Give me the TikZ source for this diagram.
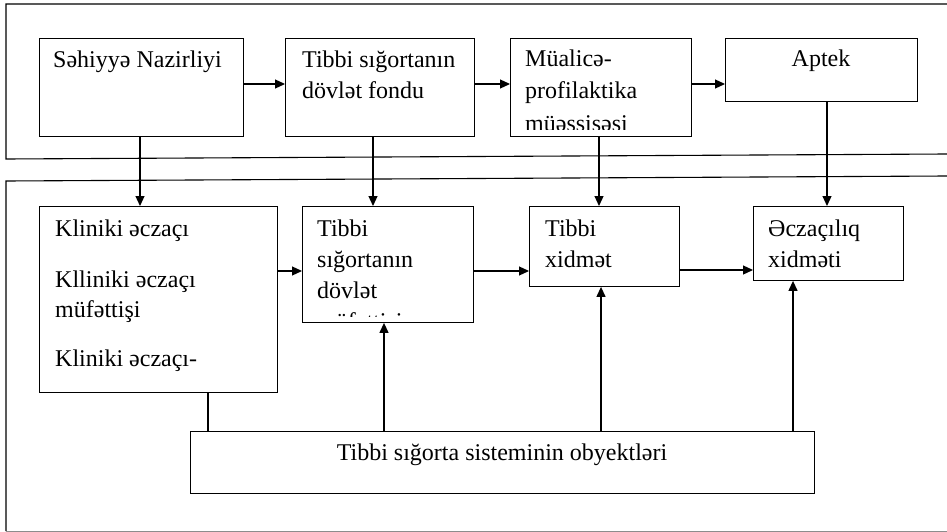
\documentclass[tikz,border=0pt]{standalone}
\usepackage{fontspec}
\setmainfont{Liberation Serif}
\usetikzlibrary{arrows.meta}
\begin{document}
\begin{tikzpicture}[x=1pt,y=-1pt,
  box/.style={draw, line width=0.9pt, rectangle, inner sep=0pt, anchor=north west},
  lbl/.style={anchor=base west, inner sep=0pt, font=\fontsize{24}{30.5}\selectfont},
  clbl/.style={anchor=base, inner sep=0pt, font=\fontsize{24}{30.5}\selectfont},
  arr/.style={line width=1.2pt, -{Triangle[length=10pt,width=9pt]}},
  plain/.style={line width=1.2pt},
  frame/.style={line width=1.1pt}]
\useasboundingbox (0,0) rectangle (947,532);
% frames
\draw[frame] (947,4) -- (6,4) -- (6,159) -- (947,154);
\draw[frame] (947,176) -- (6,181) -- (6,531);
\draw[line width=1pt, black!45] (6,531) -- (947,531);
% top row boxes
\node[box, minimum width=204pt, minimum height=98pt] (b1) at (39,38) {};
\node[box, minimum width=189pt, minimum height=98pt] (b2) at (285,38) {};
\node[box, minimum width=181pt, minimum height=98pt] (b3) at (510,38) {};
\node[box, minimum width=192pt, minimum height=63pt] (b4) at (725,38) {};
% lower row boxes
\node[box, minimum width=238pt, minimum height=186pt] (kl) at (39,206) {};
\node[box, minimum width=171pt, minimum height=116pt] (ts) at (302,206) {};
\node[box, minimum width=150pt, minimum height=80pt] (tx) at (529,206) {};
\node[box, minimum width=150pt, minimum height=74pt] (ec) at (753,206) {};
\node[box, minimum width=624pt, minimum height=62pt] (obj) at (190,431) {};
% texts
\node[lbl] (t1) at (53,68) {Səhiyyə Nazirliyi};
\node[lbl] (t2a) at (302,68) {Tibbi sığortanın};
\node[lbl] (t2b) at (302,99) {dövlət fondu};
\begin{scope}
  \clip (b3.north west) rectangle ([yshift=7.5pt]b3.south east);
  \node[lbl] (t3a) at (525,67) {Müalicə-};
  \node[lbl] (t3b) at (525,99) {profilaktika};
  \node[lbl] (t3c) at (525,131.5) {müəssisəsi};
\end{scope}
\node[clbl] (t4) at (821,67) {Aptek};
\node[lbl] (k1) at (55,236) {Kliniki əczaçı};
\node[lbl] (k2) at (55,287) {Klliniki əczaçı};
\node[lbl] (k3) at (55,317) {müfəttişi};
\node[lbl] (k4) at (55,366) {Kliniki əczaçı-};
\begin{scope}
  \clip (ts.north west) rectangle ([yshift=6pt]ts.south east);
  \node[lbl] (s1) at (317,236) {Tibbi};
  \node[lbl] (s2) at (317,267) {sığortanın};
  \node[lbl] (s3) at (317,298) {dövlət};
  \node[lbl] (s4) at (317,329.5) {müfəttişi};
\end{scope}
\node[lbl] (x1) at (545,236) {Tibbi};
\node[lbl] (x2) at (545,267) {xidmət};
\node[lbl] (e1) at (768,236) {Əczaçılıq};
\node[lbl] (e2) at (768,267) {xidməti};
\node[clbl] (o1) at (502,460) {Tibbi sığorta sisteminin obyektləri};
% helper coordinates
\coordinate (hy1) at (0,84);
\coordinate (hy2) at (0,271);
\coordinate (hy3) at (0,270);
\coordinate (vx1) at (140,0);
\coordinate (vx2) at (373,0);
\coordinate (vx3) at (599,0);
\coordinate (vx4) at (827,0);
\coordinate (ux0) at (208,0);
\coordinate (ux1) at (384,0);
\coordinate (ux2) at (601,0);
\coordinate (ux3) at (793,0);
% top horizontal arrows
\draw[arr] (b1.east |- hy1) -- (b2.west |- hy1);
\draw[arr] (b2.east |- hy1) -- (b3.west |- hy1);
\draw[arr] (b3.east |- hy1) -- (b4.west |- hy1);
% vertical down arrows
\draw[arr] (b1.south -| vx1) -- (kl.north -| vx1);
\draw[arr] (b2.south -| vx2) -- (ts.north -| vx2);
\draw[arr] (b3.south -| vx3) -- (tx.north -| vx3);
\draw[arr] (b4.south -| vx4) -- (ec.north -| vx4);
% lower horizontal arrows
\draw[arr] (kl.east |- hy2) -- (ts.west |- hy2);
\draw[arr] (ts.east |- hy2) -- (tx.west |- hy2);
\draw[arr] (tx.east |- hy3) -- (ec.west |- hy3);
% from bottom box
\draw[plain] (kl.south -| ux0) -- (obj.north -| ux0);
\draw[arr] (obj.north -| ux1) -- (ts.south -| ux1);
\draw[arr] (obj.north -| ux2) -- (tx.south -| ux2);
\draw[arr] (obj.north -| ux3) -- (ec.south -| ux3);
\end{tikzpicture}
\end{document}
